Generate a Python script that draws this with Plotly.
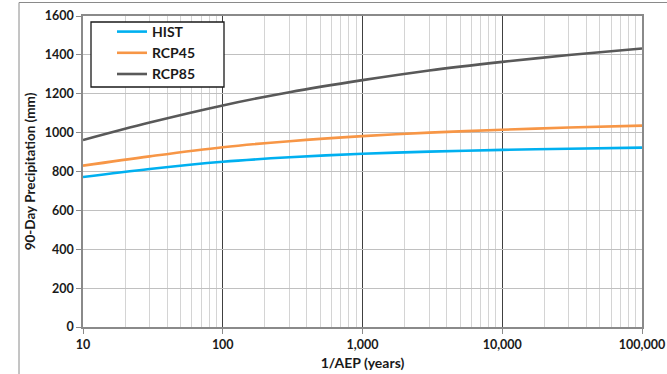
import plotly.graph_objects as go

# Data
return_period = [10, 30, 100, 300, 1000, 3000, 10000, 30000, 100000]
hist = [772, 813, 850, 873, 891, 902, 911, 917, 923]
rcp45 = [830, 878, 925, 956, 982, 1000, 1015, 1026, 1036]
rcp85 = [962, 1052, 1140, 1208, 1270, 1320, 1364, 1399, 1433]

series_names = ["HIST", "RCP45", "RCP85"]
series_colors = ["#00b0f0", "#f79646", "#595959"]

x_tick_vals = [10, 100, 1000, 10000, 100000]
x_tick_text = ["10", "100", "1,000", "10,000", "100,000"]
y_tick_vals = [0, 200, 400, 600, 800, 1000, 1200, 1400, 1600]

W, H = 667, 374
ML, MR, MT, MB = 83, 25, 16, 47
PW = W - ML - MR
PH = H - MT - MB

def px_x(p):
    return (p - ML) / PW

def px_y(p):
    return (H - MB - p) / PH

FONT = "Lato"

fig = go.Figure()
for name, vals, color in zip(series_names, [hist, rcp45, rcp85], series_colors):
    fig.add_trace(go.Scatter(
        x=return_period, y=vals, mode="lines", name=name,
        line=dict(color=color, width=2.6, shape="spline", smoothing=1.0),
    ))

fig.update_layout(
    width=W, height=H,
    margin=dict(l=ML, r=MR, t=MT, b=MB, autoexpand=False),
    paper_bgcolor="white", plot_bgcolor="white",
    font=dict(family=FONT, size=12, color="#1a1a1a"),
    showlegend=True,
    legend=dict(
        x=px_x(112), y=px_y(16), xanchor="left", yanchor="top",
        bgcolor="rgba(0,0,0,0)", borderwidth=0,
        font=dict(family=FONT, size=14, color="#1a1a1a", weight="bold"),
        itemwidth=30,
    ),
    xaxis=dict(
        type="log", range=[1, 5], automargin=False,
        tickvals=x_tick_vals, ticktext=x_tick_text,
        tickfont=dict(family=FONT, size=12.5, weight="bold", color="#1a1a1a"),
        showgrid=True, gridcolor="#404040", gridwidth=1,
        minor=dict(dtick="D1", showgrid=True, gridcolor="#d4d4d4", gridwidth=1.3, ticks=""),
        showline=True, linecolor="#8a8a8a", linewidth=1.5, mirror=True,
        ticks="outside", ticklen=5, tickcolor="#8a8a8a",
        zeroline=False,
        title=dict(text="1/AEP (years)", font=dict(family=FONT, size=14, weight="bold", color="#1a1a1a"), standoff=7),
    ),
    yaxis=dict(
        range=[0, 1600], tickvals=y_tick_vals, automargin=False,
        tickfont=dict(family=FONT, size=12.5, weight="bold", color="#1a1a1a"),
        showgrid=True, gridcolor="#c0c0c0", gridwidth=1.3,
        showline=True, linecolor="#8a8a8a", linewidth=1.5, mirror=True,
        ticks="outside", ticklen=5, tickcolor="#8a8a8a",
        zeroline=False,
        title=dict(text="90-Day Precipitation (mm)", font=dict(family=FONT, size=13.5, weight="bold", color="#1a1a1a"), standoff=6),
    ),
    shapes=[
        # legend box
        dict(type="rect", xref="paper", yref="paper",
             x0=px_x(91), x1=px_x(224), y0=px_y(87), y1=px_y(22),
             fillcolor="white", line=dict(color="#1a1a1a", width=1.3), layer="above"),
        # outer chart border
        dict(type="rect", xref="paper", yref="paper",
             x0=px_x(19), x1=px_x(700), y0=px_y(400), y1=px_y(2.5),
             fillcolor="rgba(0,0,0,0)", line=dict(color="#8a8a8a", width=1), layer="below"),
    ],
)

fig.write_html("out.html", config={"displayModeBar": False},
               post_script="document.body.style.margin='0';")
